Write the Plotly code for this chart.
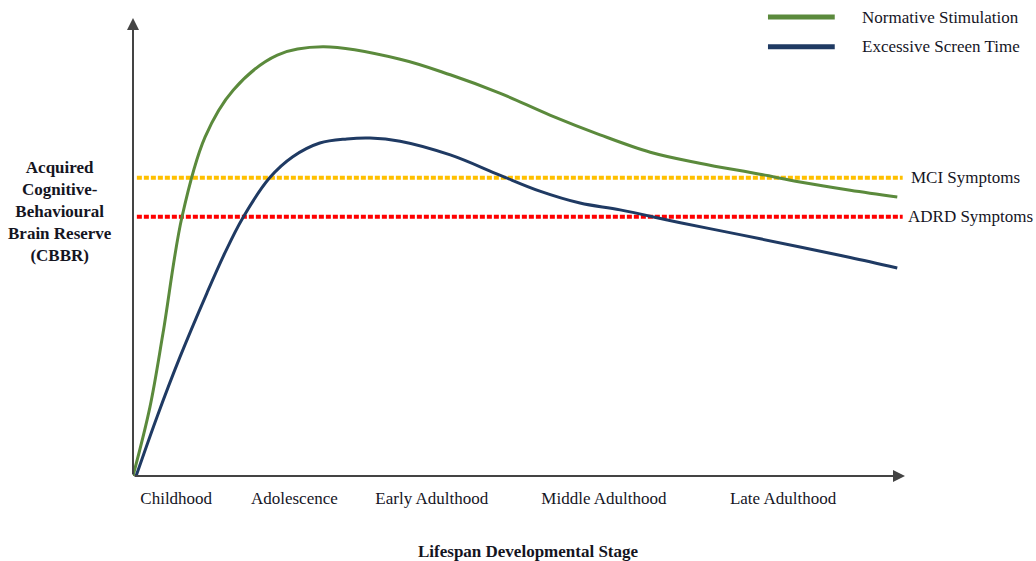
import plotly.graph_objects as go

# Lifespan position (0-100) and acquired reserve (0-100)
normative_x = [0, 2.20, 3.89, 6.35, 9.33, 13.0, 18.7, 24.6, 34.6,
               41.1, 47.5, 54.0, 60.5, 67.0, 73.4, 81.2, 86.4, 92.9, 99.0]
normative_y = [0, 15.1, 31.2, 56.6, 74.0, 84.3, 91.9, 93.7, 91.0,
               87.6, 83.6, 78.8, 74.5, 70.7, 68.3, 65.9, 64.2, 62.4, 60.9]

screen_x = [0.4, 3.11, 6.09, 9.59, 11.9, 14.2, 17.7, 20.7, 24.2, 27.7, 30.7, 34.6, 41.1, 47.5,
            52.7, 57.9, 63.1, 70.9, 78.6, 86.4, 92.9, 99.0]
screen_y = [0, 12.9, 26.0, 40.0, 48.7, 56.3, 65.1, 69.7, 72.7, 73.6, 73.8, 73.1, 70.1, 65.7,
            62.2, 59.6, 58.1, 55.3, 52.7, 50.0, 47.7, 45.4]

mci_level = 65.1
adrd_level = 56.6
threshold_span = [0.5, 99.7]

stage_labels = ["Childhood", "Adolescence", "Early Adulthood", "Middle Adulthood", "Late Adulthood"]
stage_pos = [5.6, 20.9, 38.7, 61.0, 84.2]

GREEN = "#5b8a3c"
BLUE = "#1f3a63"
FONT = "Liberation Serif, Times New Roman, serif"
TXT = "#15151f"
FS = 17

fig = go.Figure()
fig.add_trace(go.Scatter(x=threshold_span, y=[mci_level, mci_level], mode="lines",
                         line=dict(color="#ffc000", width=4, dash="5px,2px"),
                         name="MCI Symptoms", showlegend=False, hoverinfo="skip"))
fig.add_trace(go.Scatter(x=threshold_span, y=[adrd_level, adrd_level], mode="lines",
                         line=dict(color="#ff0000", width=4, dash="5px,2px"),
                         name="ADRD Symptoms", showlegend=False, hoverinfo="skip"))
fig.add_trace(go.Scatter(x=normative_x, y=normative_y, mode="lines",
                         line=dict(color=GREEN, width=3, shape="spline", smoothing=1.0),
                         name="Normative Stimulation", showlegend=False))
fig.add_trace(go.Scatter(x=screen_x, y=screen_y, mode="lines",
                         line=dict(color=BLUE, width=3, shape="spline", smoothing=1.0),
                         name="Excessive Screen Time", showlegend=False))

# axes with arrows
axis_col = "#444444"
fig.add_annotation(x=0, y=100, ax=0, ay=0, xref="x", yref="y", axref="x", ayref="y",
                   showarrow=True, arrowhead=2, arrowsize=1.2, arrowwidth=2, arrowcolor=axis_col, text="")
fig.add_annotation(x=100, y=0, ax=0, ay=0, xref="x", yref="y", axref="x", ayref="y",
                   showarrow=True, arrowhead=2, arrowsize=1.2, arrowwidth=2, arrowcolor=axis_col, text="")

# legend drawn manually
legend_items = [("Normative Stimulation", GREEN, 1.002), ("Excessive Screen Time", BLUE, 0.937)]
for label, col, yy in legend_items:
    fig.add_shape(type="line", xref="paper", yref="paper", x0=0.8225, x1=0.909, y0=yy, y1=yy,
                  line=dict(color=col, width=5))
    fig.add_annotation(x=0.9417, y=yy, xref="paper", yref="paper", text=label, showarrow=False,
                       xanchor="left", yanchor="middle", font=dict(family=FONT, size=FS, color=TXT))

fig.add_annotation(x=1.005, y=mci_level, xref="paper", yref="y", text="MCI Symptoms", showarrow=False,
                   xanchor="left", yanchor="middle", font=dict(family=FONT, size=FS, color=TXT))
fig.add_annotation(x=1.001, y=adrd_level, xref="paper", yref="y", text="ADRD Symptoms", showarrow=False,
                   xanchor="left", yanchor="middle", font=dict(family=FONT, size=FS, color=TXT))

fig.add_annotation(x=-0.0946, y=0.5786, xref="paper", yref="paper",
                   text="<b>Acquired<br>Cognitive-<br>Behavioural<br>Brain Reserve<br>(CBBR)</b>",
                   showarrow=False, xanchor="center", yanchor="middle", align="center",
                   font=dict(family=FONT, size=FS, color=TXT))
fig.add_annotation(x=0.5117, y=-0.164, xref="paper", yref="paper",
                   text="<b>Lifespan Developmental Stage</b>", showarrow=False,
                   xanchor="center", yanchor="middle", font=dict(family=FONT, size=FS, color=TXT))

fig.update_layout(
    width=1036, height=561,
    margin=dict(l=133, r=131, t=18, b=85),
    paper_bgcolor="white", plot_bgcolor="white",
    xaxis=dict(range=[0, 100], showgrid=False, zeroline=False, showline=False,
               tickmode="array", tickvals=stage_pos, ticktext=stage_labels,
               ticks="outside", ticklen=7, tickcolor="rgba(0,0,0,0)",
               tickfont=dict(family=FONT, size=FS, color=TXT), fixedrange=True),
    yaxis=dict(range=[0, 100], showgrid=False, zeroline=False, showline=False,
               showticklabels=False, fixedrange=True),
    showlegend=False,
)

fig.write_html("out.html", config={"displayModeBar": False},
               post_script="document.body.style.margin='0';")
